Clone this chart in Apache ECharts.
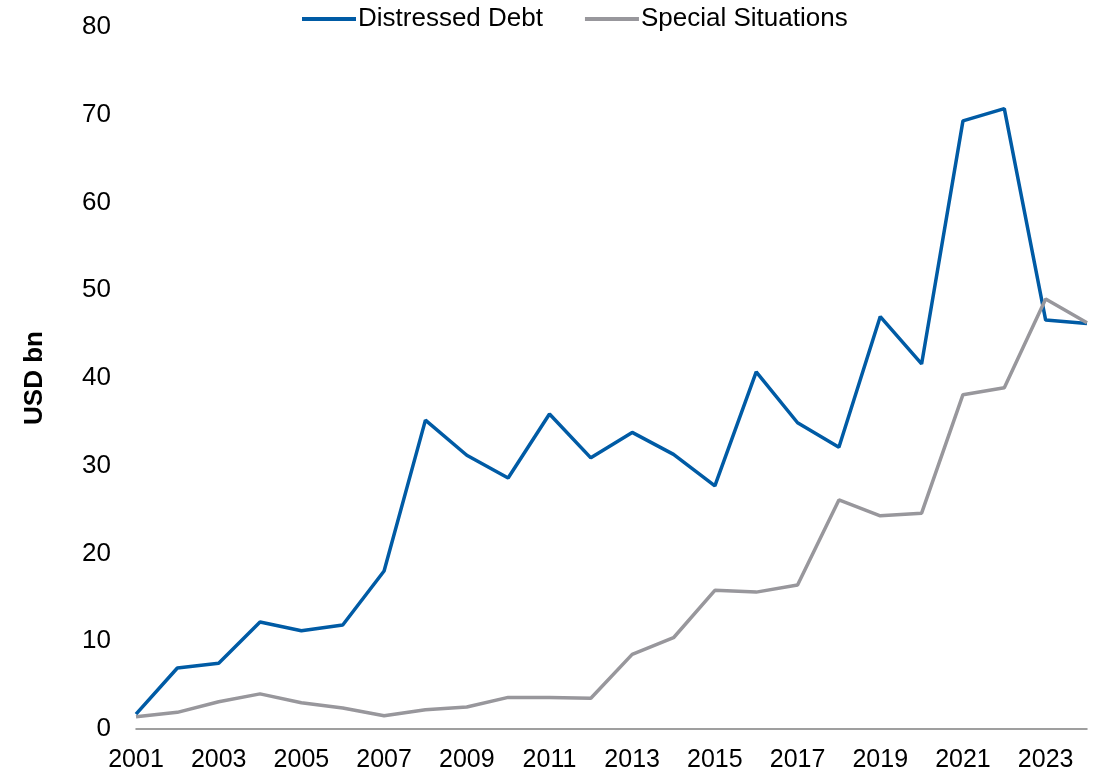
<!DOCTYPE html>
<html>
<head>
<meta charset="utf-8">
<script src="https://cdn.jsdelivr.net/npm/echarts@6/dist/echarts.min.js"></script>
<style>
  html, body { margin: 0; padding: 0; background: #fff; }
  #chart { width: 1110px; height: 773px; }
</style>
</head>
<body>
<div id="chart"></div>
<script>
// Fundraising by strategy, USD bn
const years = ['2001','2002','2003','2004','2005','2006','2007','2008','2009','2010','2011','2012',
               '2013','2014','2015','2016','2017','2018','2019','2020','2021','2022','2023','2024'];
const distressedDebt = [1.7, 6.95, 7.5, 12.2, 11.2, 11.85, 18.0, 35.2, 31.2, 28.6, 35.9, 30.9,
                        33.8, 31.3, 27.7, 40.7, 34.9, 32.1, 47.0, 41.6, 69.3, 70.7, 46.6, 46.2];
const specialSituations = [1.4, 1.9, 3.1, 4.0, 3.0, 2.4, 1.5, 2.2, 2.5, 3.6, 3.6, 3.5,
                           8.5, 10.4, 15.8, 15.6, 16.4, 26.1, 24.3, 24.6, 38.1, 38.9, 49.0, 46.3];
const yTicks = { min: 0, max: 80, interval: 10 };

const font = 'Liberation Sans, Arial, sans-serif';
const chart = echarts.init(document.getElementById('chart'), null, { renderer: 'canvas' });
chart.setOption({
  animation: false,
  textStyle: { fontFamily: font },
  legend: {
    top: 1,
    left: 297,
    itemWidth: 54,
    itemHeight: 4,
    itemGap: 42,
    icon: 'rect',
    textStyle: { fontSize: 26, color: '#000', fontFamily: font, padding: [0, 0, 0, -3] },
    data: ['Distressed Debt', 'Special Situations']
  },
  grid: { left: 136, right: 23, top: 27, bottom: 44, containLabel: false },
  xAxis: {
    type: 'category',
    data: years,
    boundaryGap: false,
    axisLine: { lineStyle: { color: '#808080', width: 1.5 } },
    axisTick: { show: false },
    axisLabel: { interval: 1, fontSize: 25, color: '#000', fontFamily: font, margin: 19 },
    splitLine: { show: false }
  },
  yAxis: {
    type: 'value',
    min: yTicks.min,
    max: yTicks.max,
    interval: yTicks.interval,
    name: 'USD bn',
    nameLocation: 'middle',
    nameGap: 88,
    nameRotate: 90,
    nameTextStyle: { fontSize: 26, fontWeight: 'bold', color: '#000', fontFamily: font },
    axisLine: { show: false },
    axisTick: { show: false },
    axisLabel: { fontSize: 26, color: '#000', fontFamily: font, margin: 25 },
    splitLine: { show: false }
  },
  series: [
    {
      name: 'Distressed Debt',
      type: 'line',
      data: distressedDebt,
      symbol: 'none',
      lineStyle: { color: '#005ba5', width: 3.5 },
      itemStyle: { color: '#005ba5' }
    },
    {
      name: 'Special Situations',
      type: 'line',
      data: specialSituations,
      symbol: 'none',
      lineStyle: { color: '#98979c', width: 3.5 },
      itemStyle: { color: '#98979c' }
    }
  ]
});
</script>
</body>
</html>
